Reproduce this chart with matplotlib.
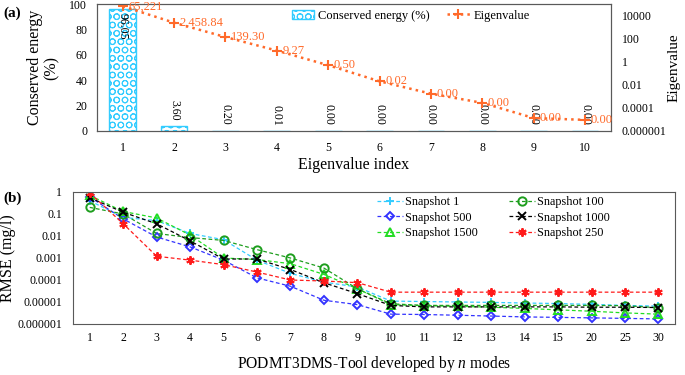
import numpy as np
import matplotlib.pyplot as plt
from matplotlib.ticker import FixedLocator, FixedFormatter, NullLocator

plt.rcParams['font.family'] = ['Liberation Serif', 'DejaVu Serif']
plt.rcParams['mathtext.fontset'] = 'custom'
plt.rcParams['mathtext.it'] = 'Liberation Serif:italic'
plt.rcParams['mathtext.rm'] = 'Liberation Serif'
plt.rcParams['hatch.linewidth'] = 0.7

# (a) ominaisarvot
eig_index = [1, 2, 3, 4, 5, 6, 7, 8, 9, 10]
energy = [96.05, 3.60, 0.20, 0.01, 0.00, 0.00, 0.00, 0.00, 0.00, 0.00]
eigenvalue = [65221, 2458.84, 139.30, 9.27, 0.50, 0.02, 0.0017, 0.00027, 1.3e-5, 9e-6]
eig_labels = ['65,221', '2,458.84', '139.30', '9.27', '0.50', '0.02', '0.00', '0.00', '0.00', '0.00']
right_ticks = [10000, 100, 1, 0.01, 0.0001, 0.000001]
right_ticklabels = ['10000', '100', '1', '0.01', '0.0001', '0.000001']

# (b) RMSE moodien määrän mukaan
modes = ['1', '2', '3', '4', '5', '6', '7', '8', '9', '10', '11', '12', '13', '14', '15', '20', '25', '30']
s1 = [0.4, 0.07, 0.05, 0.013, 0.0068, 0.0008, 0.0002, 8e-5, 4.8e-5, 1.1e-5, 1.05e-5, 1e-5, 9.6e-6, 9e-6, 8.5e-6, 7.8e-6, 7e-6, 6.5e-6]
s100 = [0.2, 0.1, 0.013, 0.0085, 0.0063, 0.0024, 0.001, 0.00035, 4e-5, 8.3e-6, 7e-6, 7e-6, 7e-6, 7e-6, 7e-6, 7e-6, 6.8e-6, 5.5e-6]
s500 = [0.6, 0.06, 0.009, 0.0032, 0.0008, 0.000125, 5.2e-5, 1.2e-5, 7.6e-6, 2.8e-6, 2.7e-6, 2.5e-6, 2.3e-6, 2.1e-6, 2e-6, 1.9e-6, 1.8e-6, 1.7e-6]
s1000 = [0.55, 0.12, 0.036, 0.006, 0.0009, 0.0009, 0.0003, 7.5e-5, 2.4e-5, 7e-6, 6e-6, 6e-6, 6e-6, 6e-6, 6e-6, 5.8e-6, 5.8e-6, 5.6e-6]
s1500 = [0.7, 0.13, 0.066, 0.011, 0.001, 0.00085, 0.00055, 0.00018, 4e-5, 7.6e-6, 6.8e-6, 6.4e-6, 5.8e-6, 5.1e-6, 4.4e-6, 3.8e-6, 3.2e-6, 2.8e-6]
s250 = [0.9, 0.036, 0.0012, 0.0008, 0.0005, 0.00023, 0.0001, 9e-5, 7.6e-5, 2.8e-5, 2.8e-5, 2.8e-5, 2.8e-5, 2.8e-5, 2.8e-5, 2.8e-5, 2.8e-5, 2.8e-5]
rmse_ticks = [1, 0.1, 0.01, 0.001, 0.0001, 0.00001, 0.000001]
rmse_ticklabels = ['1', '0.1', '0.01', '0.001', '0.0001', '0.00001', '0.000001']

fig = plt.figure(figsize=(6.85, 3.75), dpi=100)
spine_col = '#595959'
tick_fs = 8.5
label_fs = 11.5

# ---- paneeli (a)
ax1 = fig.add_axes([0.1416, 0.651, 0.750, 0.338])
bars = ax1.bar(eig_index, energy, width=0.52, color='white', edgecolor='#33CCFF',
               hatch='OO', linewidth=1.0, label='Conserved energy (%)')
ax1.set_xlim(0.5, 10.5)
ax1.set_ylim(0, 100)
ax1.set_yticks([0, 20, 40, 60, 80, 100])
ax1.set_xticks(eig_index)
ax1.tick_params(length=0, labelsize=tick_fs, pad=7)
ax1.tick_params(axis='x', pad=8)
ax1.set_xlabel('Eigenvalue index', fontsize=label_fs, labelpad=2)
ax1.set_ylabel('Conserved energy\n(%)', fontsize=label_fs, linespacing=1.05, labelpad=7)
for sp in ax1.spines.values():
    sp.set_color(spine_col)

for x, v in zip(eig_index, energy):
    if v > 50:
        ax1.annotate('%.2f' % v, (x, v), xytext=(0, -3), textcoords='offset points',
                     rotation=-90, ha='center', va='top', fontsize=tick_fs)
    else:
        ax1.annotate('%.2f' % v, (x, v), xytext=(0, 4), textcoords='offset points',
                     rotation=-90, ha='center', va='bottom', fontsize=tick_fs)

ax2 = ax1.twinx()
orange = '#FF6A2A'
ln, = ax2.plot(eig_index, eigenvalue, linestyle=':', color=orange, linewidth=1.8,
               marker='+', markersize=7, markeredgewidth=1.5, label='Eigenvalue')
ax2.set_yscale('log')
ax2.set_ylim(1e-6, 1e5)
ax2.yaxis.set_major_locator(FixedLocator(right_ticks))
ax2.yaxis.set_major_formatter(FixedFormatter(right_ticklabels))
ax2.yaxis.set_minor_locator(NullLocator())
ax2.tick_params(length=0, labelsize=tick_fs, pad=8)
ax2.set_ylabel('Eigenvalue', fontsize=11, labelpad=1)
for sp in ax2.spines.values():
    sp.set_color(spine_col)
for x, v, t in zip(eig_index, eigenvalue, eig_labels):
    ax2.annotate(t, (x, v), xytext=(4, 0), textcoords='offset points',
                 ha='left', va='center', fontsize=9, color=orange)

ax1.legend([bars, ln], ['Conserved energy (%)', 'Eigenvalue'], ncol=2, frameon=False,
           loc='upper left', bbox_to_anchor=(0.379, 0.955), borderaxespad=0, borderpad=0,
           fontsize=9, handlelength=1.8, columnspacing=1.4, handletextpad=0.3)

fig.text(0.005, 0.965, '(a)', fontsize=11, fontweight='bold', va='center')

# ---- paneeli (b)
ax3 = fig.add_axes([0.1066, 0.136, 0.879, 0.352])
xpos = np.arange(len(modes))
series = [
    (s1, 'Snapshot 1', '#33CCFF', '+'),
    (s500, 'Snapshot 500', '#3333FF', 'D'),
    (s1500, 'Snapshot 1500', '#22DD22', '^'),
    (s100, 'Snapshot 100', '#1E9E1E', 'o'),
    (s1000, 'Snapshot 1000', 'black', 'x'),
    (s250, 'Snapshot 250', '#FF1A1A', (6, 2, 0)),
]
for vals, name, col, mk in series:
    ms = 4 if mk == 'D' else 6
    ax3.plot(xpos, vals, linestyle='--', dashes=(3, 2), color=col, linewidth=0.9,
             marker=mk, markersize=ms, markerfacecolor='none', markeredgewidth=1.4, label=name)
ax3.set_yscale('log')
ax3.set_ylim(1e-6, 1)
ax3.set_xlim(-0.5, len(modes) - 0.5)
ax3.set_xticks(xpos)
ax3.set_xticklabels(modes)
ax3.yaxis.set_major_locator(FixedLocator(rmse_ticks))
ax3.yaxis.set_major_formatter(FixedFormatter(rmse_ticklabels))
ax3.yaxis.set_minor_locator(NullLocator())
ax3.tick_params(length=0, labelsize=tick_fs, pad=8)
ax3.tick_params(axis='x', pad=6)
ax3.set_xlabel('PODMT3DMS-Tool developed by $n$ modes', fontsize=11.2, labelpad=7)
ax3.set_ylabel('RMSE (mg/l)', fontsize=label_fs, labelpad=1)
for sp in ax3.spines.values():
    sp.set_color(spine_col)
ax3.legend(ncol=2, frameon=False, loc='upper left', bbox_to_anchor=(0.505, 0.97),
           borderaxespad=0, borderpad=0,
           fontsize=8.8, handlelength=2.1, columnspacing=2.6, handletextpad=0.15,
           labelspacing=0.3)

fig.text(0.005, 0.472, '(b)', fontsize=11, fontweight='bold', va='center')

fig.savefig('out.png', dpi=100)
